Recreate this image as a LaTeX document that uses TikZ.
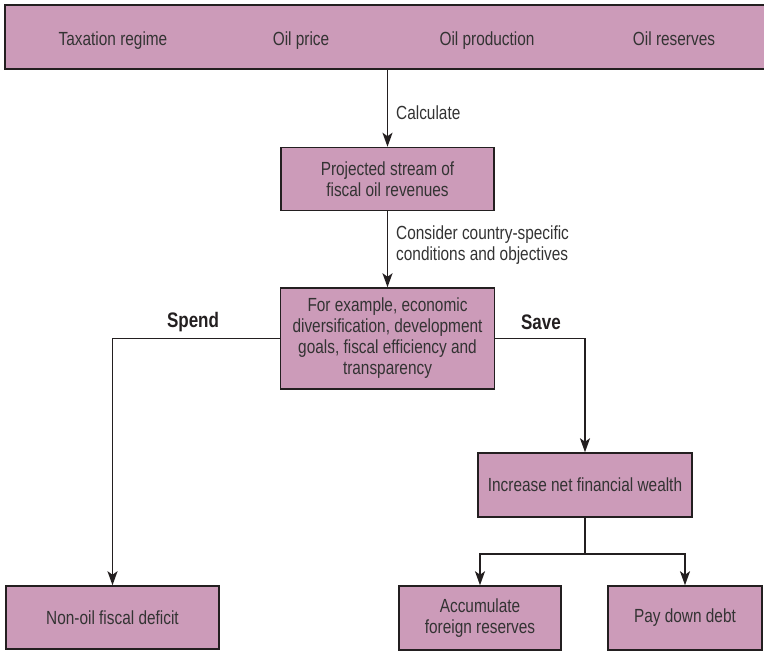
\documentclass[tikz,border=0pt]{standalone}
\usepackage{fontspec}
\setmainfont{Liberation Sans}[FakeStretch=0.81]
\usepackage{tikz}
\usetikzlibrary{arrows.meta, positioning, calc}
\definecolor{mauve}{HTML}{CC9BB9}
\definecolor{inkline}{HTML}{231F20}
\definecolor{inktext}{HTML}{333333}

\begin{document}
\begin{tikzpicture}[
    x=1bp, y=1bp,
    node distance=76bp,
    every node/.style={font=\fontsize{19bp}{21bp}\selectfont, text=inktext},
    band/.style={rectangle, draw=inkline, fill=mauve, line width=1.5bp, minimum height=64bp, inner sep=0pt},
    bandtext/.style={anchor=base, inner sep=0pt},
    flowbox/.style={rectangle, draw=inkline, fill=mauve, line width=1.5bp, minimum height=63bp, align=center, inner sep=2bp},
    note/.style={anchor=west, align=left, inner sep=0pt},
    branchlabel/.style={font=\fontsize{21bp}{24bp}\selectfont\bfseries, text=inkline, inner sep=0pt},
    arrow/.style={-{Stealth[length=14bp, width=10bp, inset=3.5bp]}, line width=1.7bp, draw=inkline},
    plain/.style={line width=1.7bp, draw=inkline}
]
\useasboundingbox (0,0) rectangle (764,-651);
\node (bar) [band, minimum width=765bp] at (387.5,-37) {};
\node (taxation) [bandtext] at (113,-46) {Taxation regime};
\node (price) [bandtext] at (301,-46) {Oil price};
\node (production) [bandtext] at (487,-46) {Oil production};
\node (reserves) [bandtext] at (674,-46) {Oil reserves};
\node (projected) [flowbox, minimum width=213bp, below=77bp of bar] {Projected stream of\\fiscal oil revenues};
\node (conditions) [flowbox, minimum width=214bp, minimum height=101bp, below=of projected] {For example, economic\\diversification, development\\goals, fiscal efficiency and\\transparency};
\node (deficit) [flowbox, minimum width=213bp] at (112.5,-617.5) {Non-oil fiscal deficit};
\node (wealth) [flowbox, minimum width=214bp, minimum height=64bp] at (585,-485) {Increase net financial wealth};
\node (foreign) [flowbox, minimum width=162bp, minimum height=64bp] at (480,-618) {Accumulate\\foreign reserves};
\node (debt) [flowbox, minimum width=154bp, minimum height=64bp] at (685,-618) {Pay down debt};
\node (calculate) [note] at (396,-113) {Calculate};
\node (consider) [note] at (396,-245) {Consider country-specific\\conditions and objectives};
\node (spend) [branchlabel] at (193,-322) {Spend};
\node (save) [branchlabel] at (541,-322) {Save};
\coordinate (fork) at (585,-554);
\draw [arrow] (bar) -- (projected);
\draw [arrow] (projected) -- (conditions);
\draw [arrow] (conditions.west) -| (deficit.north);
\draw [arrow] (conditions.east) -| (wealth.north);
\draw [plain] (wealth.south) -- (fork);
\draw [arrow] (fork) -| (foreign.north);
\draw [arrow] (fork) -| (debt.north);
\end{tikzpicture}
\end{document}
